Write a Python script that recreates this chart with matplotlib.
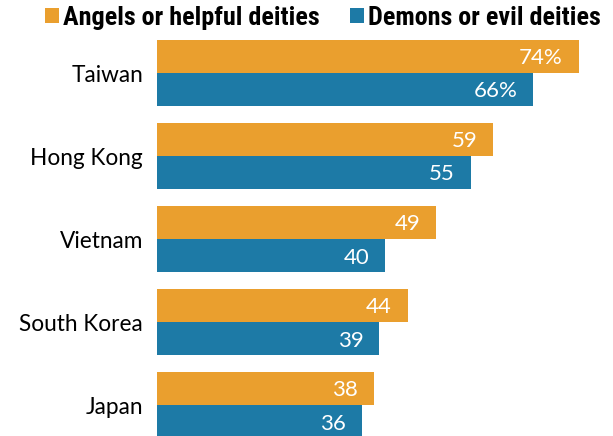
import matplotlib
matplotlib.use("Agg")
import matplotlib.pyplot as plt
import numpy as np

countries = ["Taiwan", "Hong Kong", "Vietnam", "South Korea", "Japan"]
angels = [74, 59, 49, 44, 38]
demons = [66, 55, 40, 39, 36]
series_names = ["Angels or helpful deities", "Demons or evil deities"]

orange = "#EA9F2E"
blue = "#1D7AA6"

fig = plt.figure(figsize=(6.13, 4.36), dpi=100)
ax = fig.add_axes([157 / 613, 0, 443 / 613, 396 / 436])

y = np.arange(len(countries))
h = 0.4
b1 = ax.barh(y - h / 2, angels, height=h, color=orange, label=series_names[0])
b2 = ax.barh(y + h / 2, demons, height=h, color=blue, label=series_names[1])

ax.set_xlim(0, 77.7)
ax.set_ylim(4.37, -0.4)

val_font = dict(family=["Lato", "DejaVu Sans"], fontsize=16, color="white",
                ha="right", va="center")
for i, (a, d) in enumerate(zip(angels, demons)):
    sa = f"{a}%" if i == 0 else f"{a}"
    sd = f"{d}%" if i == 0 else f"{d}"
    ax.text(a - 2.8, i - h / 2 + 0.02, sa, **val_font)
    ax.text(d - 2.8, i + h / 2 + 0.02, sd, **val_font)

ax.set_yticks(y)
ax.set_yticklabels(countries, fontsize=16.3, family=["Lato", "DejaVu Sans"])
ax.tick_params(axis="y", length=0, pad=10)
ax.set_xticks([])
for s in ax.spines.values():
    s.set_visible(False)

leg = fig.legend(handles=[b1, b2], loc="upper right",
                 bbox_to_anchor=(601 / 613, 1 - 6 / 436),
                 ncol=2, frameon=False, borderpad=0, borderaxespad=0,
                 handlelength=0.52, handleheight=0.52,
                 handletextpad=0.18, columnspacing=1.15,
                 prop=dict(family=["Roboto Condensed", "DejaVu Sans"],
                           stretch="condensed", weight="bold", size=18.8))

fig.savefig("out.png", dpi=100)
